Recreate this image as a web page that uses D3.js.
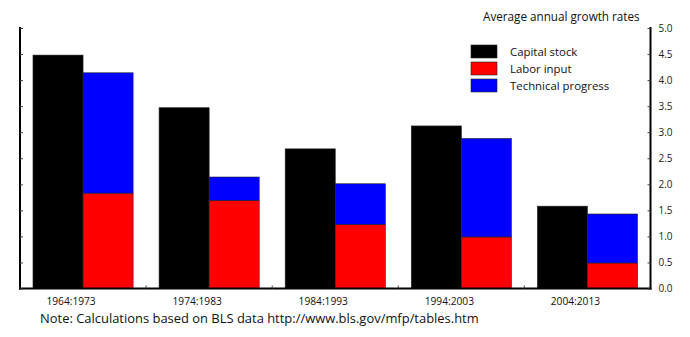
<!DOCTYPE html>
<html>
<head>
<meta charset="utf-8">
<script src="https://cdn.jsdelivr.net/npm/d3@7"></script>
<style>
  html, body { margin: 0; padding: 0; background: #fff; }
  svg { display: block; font-family: "Open Sans", "Noto Sans", sans-serif; }
</style>
</head>
<body>
<svg id="chart" width="690" height="337"></svg>
<script>
const periods = ["1964:1973", "1974:1983", "1984:1993", "1994:2003", "2004:2013"];
const capitalStock = [4.48, 3.47, 2.68, 3.12, 1.58];
const laborInput = [1.83, 1.69, 1.23, 0.99, 0.49];
const technicalProgress = [2.31, 0.45, 0.78, 1.89, 0.94];
const seriesNames = ["Capital stock", "Labor input", "Technical progress"];
const seriesColors = ["#000000", "#ff0000", "#0000ff"];
const yTicks = [0, 0.5, 1, 1.5, 2, 2.5, 3, 3.5, 4, 4.5, 5];
const legendTitle = "Average annual growth rates";
const note = "Note: Calculations based on BLS data http://www.bls.gov/mfp/tables.htm";

const svg = d3.select("#chart");
const pLeft = 20, pRight = 650.5, pTop = 28, pBottom = 288.5;

const x = d3.scaleBand().domain(periods).range([pLeft, pRight]).paddingInner(0.206).paddingOuter(0.103);
const sub = d3.scaleBand().domain(["capital", "stack"]).range([0, x.bandwidth()]);
const y = d3.scaleLinear().domain([0, 5]).range([pBottom, pTop]);

// bars
const g = svg.append("g");
periods.forEach((p, i) => {
  const x0 = x(p);
  g.append("rect")
    .attr("x", x0 + sub("capital")).attr("width", sub.bandwidth())
    .attr("y", y(capitalStock[i])).attr("height", y(0) - y(capitalStock[i]))
    .attr("fill", seriesColors[0]).attr("stroke", "#222").attr("stroke-width", 0.6);
  g.append("rect")
    .attr("x", x0 + sub("stack")).attr("width", sub.bandwidth())
    .attr("y", y(laborInput[i])).attr("height", y(0) - y(laborInput[i]))
    .attr("fill", seriesColors[1]).attr("stroke", "#222").attr("stroke-width", 0.6);
  const tot = laborInput[i] + technicalProgress[i];
  g.append("rect")
    .attr("x", x0 + sub("stack")).attr("width", sub.bandwidth())
    .attr("y", y(tot)).attr("height", y(laborInput[i]) - y(tot))
    .attr("fill", seriesColors[2]).attr("stroke", "#222").attr("stroke-width", 0.6);
});

// axes lines
svg.append("line").attr("x1", pLeft).attr("x2", pLeft).attr("y1", pTop - 1).attr("y2", pBottom + 1)
  .attr("stroke", "#000").attr("stroke-width", 2);
svg.append("line").attr("x1", pRight).attr("x2", pRight).attr("y1", pTop - 1).attr("y2", pBottom + 1)
  .attr("stroke", "#000").attr("stroke-width", 2);
svg.append("line").attr("x1", pLeft - 1).attr("x2", pRight + 1).attr("y1", pBottom).attr("y2", pBottom)
  .attr("stroke", "#000").attr("stroke-width", 2);

// right axis
const yAxisR = d3.axisRight(y).tickValues(yTicks).tickFormat(d3.format(".1f")).tickSizeInner(-3).tickSizeOuter(0).tickPadding(8);
const ra = svg.append("g").attr("transform", `translate(${pRight},0)`).call(yAxisR);
ra.select(".domain").remove();
ra.selectAll("text").attr("font-size", 10).attr("fill", "#222").attr("font-family", "Open Sans, sans-serif");
ra.selectAll("line").attr("stroke", "#444");

// left axis ticks
const yAxisL = d3.axisLeft(y).tickValues(yTicks).tickFormat("").tickSizeInner(-3).tickSizeOuter(0);
const la = svg.append("g").attr("transform", `translate(${pLeft},0)`).call(yAxisL);
la.select(".domain").remove();
la.selectAll("line").attr("stroke", "#444");

// bottom axis: ticks between groups, labels
const boundaries = periods.slice(1).map(p => x(p) - x.step() * x.paddingInner() / 2);
svg.append("g").selectAll("line").data(boundaries).join("line")
  .attr("x1", d => d).attr("x2", d => d).attr("y1", pBottom).attr("y2", pBottom - 3)
  .attr("stroke", "#444");
svg.append("g").selectAll("text").data(periods).join("text")
  .attr("x", d => x(d) + x.bandwidth() / 2 - 12)
  .attr("y", 305)
  .attr("text-anchor", "middle")
  .attr("font-size", 10.2)
  .attr("fill", "#111")
  .text(d => d);

// legend
svg.append("text").attr("x", 483).attr("y", 21).attr("font-size", 11.7).attr("fill", "#111").text(legendTitle);
const lg = svg.append("g").attr("transform", "translate(471,45)");
seriesNames.forEach((n, i) => {
  lg.append("rect").attr("x", 0).attr("y", i * 17).attr("width", 26).attr("height", 13)
    .attr("fill", seriesColors[i]).attr("stroke", "#222").attr("stroke-width", 0.6);
  lg.append("text").attr("x", 39).attr("y", i * 17 + 11).attr("font-size", 11.4).attr("fill", "#111").text(n);
});

// note
svg.append("text").attr("x", 40).attr("y", 323).attr("font-size", 12.95).attr("fill", "#111").text(note);
</script>
</body>
</html>
